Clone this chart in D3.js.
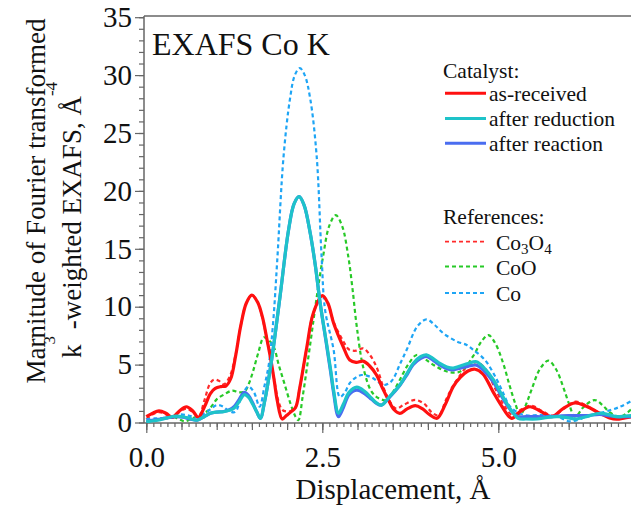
<!DOCTYPE html>
<html>
<head>
<meta charset="utf-8">
<script src="https://cdn.jsdelivr.net/npm/d3@7"></script>
<style>
  html, body { margin: 0; padding: 0; background: #fff; }
  svg { display: block; }
  text { font-family: "Liberation Serif", "Times New Roman", serif; fill: #111; }
</style>
</head>
<body>
<svg id="chart" width="631" height="507"></svg>
<script>
// Fourier-transform magnitudes |χ(R)|, k^3-weighted, Co K edge.
// Each series: [displacement (Å), magnitude (Å^-4)].
const asReceived = [[0.00,0.50],[0.09,0.80],[0.18,1.00],[0.28,0.80],[0.37,0.45],[0.47,1.00],[0.57,1.36],[0.66,1.00],[0.74,0.45],[0.83,1.40],[0.91,2.50],[0.98,2.95],[1.06,3.10],[1.13,3.15],[1.20,3.80],[1.27,5.80],[1.34,8.30],[1.42,10.3],[1.50,11.0],[1.58,10.4],[1.65,9.10],[1.71,7.30],[1.77,5.40],[1.82,3.50],[1.86,1.90],[1.93,0.30],[1.99,0.60],[2.05,0.90],[2.12,1.30],[2.18,3.00],[2.28,6.50],[2.37,9.40],[2.50,10.95],[2.58,10.3],[2.66,8.60],[2.80,6.50],[2.89,5.40],[2.98,5.20],[3.08,5.30],[3.17,4.90],[3.27,4.10],[3.36,2.90],[3.44,1.94],[3.52,1.10],[3.60,0.79],[3.70,1.15],[3.82,1.45],[3.92,1.20],[4.02,0.70],[4.13,0.36],[4.25,1.60],[4.36,3.10],[4.46,3.90],[4.57,4.45],[4.67,4.60],[4.78,4.20],[4.93,2.60],[5.05,1.40],[5.19,0.36],[5.30,0.90],[5.45,1.36],[5.60,0.97],[5.76,0.50],[5.92,1.20],[6.09,1.70],[6.25,1.40],[6.44,0.80],[6.58,0.40],[6.68,0.28],[6.80,0.40],[6.90,0.50]];

const afterReduction = [[0.00,0.07],[0.10,0.15],[0.20,0.25],[0.30,0.40],[0.42,0.55],[0.52,0.50],[0.62,0.35],[0.72,0.20],[0.82,0.50],[0.91,0.80],[1.00,0.90],[1.10,0.93],[1.18,1.05],[1.25,1.25],[1.32,1.80],[1.39,2.40],[1.45,2.20],[1.51,1.60],[1.57,0.90],[1.62,0.36],[1.68,1.80],[1.78,5.40],[1.90,10.9],[2.02,16.6],[2.10,18.9],[2.17,19.5],[2.24,18.8],[2.33,16.3],[2.40,13.6],[2.47,10.3],[2.56,6.84],[2.62,4.50],[2.66,2.80],[2.73,0.80],[2.80,1.60],[2.88,2.60],[2.99,3.05],[3.10,2.70],[3.20,2.10],[3.27,1.70],[3.34,1.50],[3.45,2.20],[3.60,3.24],[3.70,4.20],[3.79,5.10],[3.90,5.70],[3.98,5.85],[4.08,5.50],[4.17,5.10],[4.27,4.80],[4.36,4.70],[4.46,4.88],[4.57,5.10],[4.69,5.25],[4.80,4.70],[4.93,3.70],[5.03,2.60],[5.12,1.66],[5.20,0.90],[5.28,0.36],[5.40,0.30],[5.55,0.30],[5.70,0.45],[5.85,0.50],[6.00,0.40],[6.10,0.30],[6.25,0.50],[6.44,0.80],[6.56,0.70],[6.68,0.50],[6.80,0.55],[6.90,0.60]];

const afterReaction = [[0.00,0.10],[0.10,0.20],[0.20,0.30],[0.30,0.40],[0.42,0.50],[0.52,0.45],[0.62,0.30],[0.72,0.20],[0.82,0.50],[0.91,0.80],[1.00,0.90],[1.10,0.95],[1.18,1.10],[1.25,1.40],[1.32,2.00],[1.39,2.60],[1.45,2.35],[1.51,1.70],[1.57,0.90],[1.62,0.36],[1.68,1.80],[1.78,5.40],[1.90,10.9],[2.02,16.6],[2.10,18.9],[2.17,19.5],[2.24,18.8],[2.33,16.3],[2.40,13.6],[2.47,10.3],[2.56,6.70],[2.62,4.30],[2.66,2.60],[2.73,0.50],[2.80,1.30],[2.88,2.40],[2.99,2.80],[3.10,2.50],[3.20,2.00],[3.27,1.65],[3.34,1.50],[3.45,2.15],[3.60,3.20],[3.70,4.10],[3.79,5.00],[3.90,5.55],[3.98,5.70],[4.08,5.35],[4.17,4.95],[4.27,4.65],[4.36,4.55],[4.46,4.70],[4.57,4.85],[4.69,4.95],[4.80,4.45],[4.93,3.50],[5.03,2.45],[5.12,1.55],[5.20,0.90],[5.28,0.50],[5.40,0.50],[5.55,0.50],[5.70,0.50],[5.85,0.55],[6.00,0.60],[6.10,0.60],[6.25,0.60],[6.44,0.70],[6.56,0.60],[6.68,0.50],[6.80,0.50],[6.90,0.50]];

const refCo3O4 = [[0.00,0.30],[0.09,0.70],[0.18,0.90],[0.28,0.70],[0.37,0.40],[0.47,0.90],[0.57,1.20],[0.66,0.90],[0.74,0.50],[0.83,2.00],[0.90,3.30],[0.96,3.70],[1.03,3.60],[1.10,3.30],[1.18,3.90],[1.27,5.90],[1.34,8.30],[1.42,10.3],[1.50,11.0],[1.58,10.4],[1.65,9.00],[1.71,7.30],[1.77,5.40],[1.82,3.60],[1.87,2.00],[1.93,1.10],[2.00,0.95],[2.06,1.00],[2.12,1.30],[2.18,3.00],[2.28,6.50],[2.37,9.40],[2.50,10.95],[2.58,10.3],[2.66,8.70],[2.80,7.00],[2.88,6.30],[2.98,6.20],[3.08,6.40],[3.18,5.80],[3.27,4.80],[3.37,3.00],[3.46,1.80],[3.55,1.20],[3.65,1.50],[3.82,1.95],[3.95,1.60],[4.05,0.90],[4.15,0.60],[4.26,2.00],[4.36,3.20],[4.46,4.10],[4.57,4.90],[4.70,5.20],[4.82,4.60],[4.95,3.00],[5.08,1.50],[5.21,0.60],[5.32,1.10],[5.47,1.45],[5.62,1.00],[5.78,0.60],[5.95,1.30],[6.10,1.80],[6.27,1.40],[6.45,0.80],[6.60,0.50],[6.72,0.40],[6.90,0.50]];

const refCoO = [[0.00,0.00],[0.10,0.15],[0.20,0.30],[0.37,0.50],[0.46,0.30],[0.55,0.10],[0.65,0.35],[0.77,0.65],[0.87,1.00],[0.94,1.50],[1.00,2.00],[1.10,2.40],[1.22,2.75],[1.32,2.60],[1.40,2.70],[1.46,3.40],[1.52,4.50],[1.59,6.00],[1.67,7.35],[1.74,7.10],[1.81,6.55],[1.88,5.00],[1.96,3.40],[2.05,1.60],[2.12,0.50],[2.16,0.20],[2.22,2.20],[2.33,6.84],[2.42,10.8],[2.51,14.3],[2.60,17.0],[2.69,17.9],[2.78,17.0],[2.87,14.3],[2.93,11.5],[2.99,8.27],[3.08,4.80],[3.20,2.66],[3.30,2.10],[3.41,1.94],[3.50,2.60],[3.60,3.67],[3.72,5.00],[3.84,5.83],[3.95,5.50],[4.08,4.97],[4.27,4.40],[4.46,4.40],[4.64,5.70],[4.76,7.00],[4.86,7.55],[4.96,6.80],[5.07,5.10],[5.16,3.20],[5.24,1.66],[5.31,0.65],[5.39,1.50],[5.47,2.80],[5.59,4.60],[5.71,5.34],[5.82,4.60],[5.92,3.10],[6.00,1.70],[6.09,0.50],[6.22,1.40],[6.37,1.94],[6.48,1.50],[6.58,0.90],[6.73,0.50],[6.90,1.20]];

const refCo = [[0.00,0.30],[0.12,0.35],[0.25,0.40],[0.37,0.55],[0.49,0.70],[0.60,0.60],[0.70,0.45],[0.80,0.70],[0.90,1.10],[1.00,1.50],[1.08,1.40],[1.16,1.05],[1.26,0.90],[1.35,2.20],[1.45,3.10],[1.53,2.60],[1.61,1.36],[1.68,3.20],[1.74,5.00],[1.80,8.50],[1.86,14.0],[1.95,23.0],[2.04,27.9],[2.11,30.0],[2.18,30.6],[2.25,30.0],[2.33,27.9],[2.42,23.0],[2.49,14.3],[2.54,9.70],[2.66,6.30],[2.75,2.20],[2.82,2.60],[2.89,3.40],[2.98,3.90],[3.06,4.10],[3.20,3.90],[3.37,3.24],[3.45,3.40],[3.51,3.80],[3.60,5.00],[3.70,6.30],[3.85,8.30],[3.98,8.90],[4.10,8.40],[4.22,7.70],[4.41,7.00],[4.55,6.70],[4.64,6.30],[4.81,5.40],[4.98,3.70],[5.08,2.40],[5.17,1.36],[5.36,0.65],[5.60,0.65],[5.84,0.50],[6.02,0.10],[6.26,0.50],[6.50,0.90],[6.73,1.36],[6.90,1.90]];

// Axis tick values and legend labels
const xMajorTicks = [0, 2.5, 5];
const yMajorTicks = [0, 5, 10, 15, 20, 25, 30, 35];
const catalystLabels = ["as-received", "after reduction", "after reaction"];
const referenceLabels = ["Co3O4", "CoO", "Co"];

const colors = {
  red: "#ff1010",
  cyan: "#1ec3c9",
  blue: "#4a6df0",
  refRed: "#ff2a2a",
  refGreen: "#27c927",
  refBlue: "#1ea5f5"
};

const serif = '"Liberation Serif", "Times New Roman", serif';
const svg = d3.select("#chart");
const plot = { left: 144, right: 631, top: 16, bottom: 423 };

const x = d3.scaleLinear().domain([0, 5]).range([146.3, 498.3]);
const y = d3.scaleLinear().domain([0, 35]).range([422.5, 17.2]);

// clip area for the curves
svg.append("defs").append("clipPath").attr("id", "plotClip")
  .append("rect")
  .attr("x", plot.left).attr("y", plot.top)
  .attr("width", plot.right - plot.left).attr("height", plot.bottom - plot.top);

const axisColor = "#666";

// ---- axes ----
function styleAxis(g) {
  g.attr("font-family", serif);
  g.select(".domain").remove();
  g.selectAll(".tick line").attr("stroke", axisColor).attr("stroke-width", 1.2);
}

// y: minor every 1, labelled every 5
svg.append("g").attr("transform", `translate(${plot.left},0)`)
  .call(d3.axisLeft(y).tickValues(d3.range(0, 36, 1)).tickSize(5).tickFormat(""))
  .call(styleAxis);
const yMajor = svg.append("g").attr("transform", `translate(${plot.left},0)`)
  .call(d3.axisLeft(y).tickValues(yMajorTicks).tickSize(9).tickPadding(3).tickFormat(d3.format("d")))
  .call(styleAxis);
yMajor.selectAll("text").attr("font-size", 29).attr("fill", "#111");

// x: minor every 0.1, medium every 0.5, labelled every 2.5
const xMinorVals = d3.range(0, 69).map(i => +(i * 0.1).toFixed(1));
svg.append("g").attr("transform", `translate(0,${plot.bottom})`)
  .call(d3.axisBottom(x).tickValues(xMinorVals).tickSize(4).tickFormat(""))
  .call(styleAxis);
svg.append("g").attr("transform", `translate(0,${plot.bottom})`)
  .call(d3.axisBottom(x).tickValues(d3.range(0, 7, 0.5)).tickSize(7).tickFormat(""))
  .call(styleAxis);
const xMajor = svg.append("g").attr("transform", `translate(0,${plot.bottom})`)
  .call(d3.axisBottom(x).tickValues(xMajorTicks).tickSize(10).tickPadding(13).tickFormat(d3.format(".1f")))
  .call(styleAxis);
xMajor.selectAll("text").attr("font-size", 29).attr("fill", "#111");

// frame lines: left, bottom, top
svg.append("line").attr("x1", plot.left).attr("x2", plot.left)
  .attr("y1", plot.top).attr("y2", plot.bottom)
  .attr("stroke", axisColor).attr("stroke-width", 1.5);
svg.append("line").attr("x1", plot.left).attr("x2", plot.right)
  .attr("y1", plot.bottom).attr("y2", plot.bottom)
  .attr("stroke", axisColor).attr("stroke-width", 1.5);
svg.append("line").attr("x1", plot.left).attr("x2", plot.right)
  .attr("y1", plot.top).attr("y2", plot.top)
  .attr("stroke", axisColor).attr("stroke-width", 1.5);

// ---- curves ----
const line = d3.line()
  .x(d => x(d[0])).y(d => y(d[1]))
  .curve(d3.curveCatmullRom.alpha(0.5));

const curves = svg.append("g").attr("clip-path", "url(#plotClip)");

const refs = [
  { data: refCo3O4, color: colors.refRed },
  { data: refCoO, color: colors.refGreen },
  { data: refCo, color: colors.refBlue }
];
refs.forEach(r => {
  curves.append("path").datum(r.data)
    .attr("d", line).attr("fill", "none")
    .attr("stroke", r.color).attr("stroke-width", 2.2)
    .attr("stroke-dasharray", "4,3");
});

const cats = [
  { data: asReceived, color: colors.red },
  { data: afterReaction, color: colors.blue },
  { data: afterReduction, color: colors.cyan }
];
cats.forEach(c => {
  curves.append("path").datum(c.data)
    .attr("d", line).attr("fill", "none")
    .attr("stroke", c.color).attr("stroke-width", 3.2)
    .attr("stroke-linejoin", "round");
});

// ---- title ----
svg.append("text").attr("x", 152).attr("y", 55)
  .attr("font-size", 32).text("EXAFS Co K");

// ---- axis titles ----
svg.append("text")
  .attr("x", 393).attr("y", 499)
  .attr("text-anchor", "middle").attr("font-size", 29)
  .text("Displacement, Å");

svg.append("text")
  .attr("transform", "translate(45,201) rotate(-90)")
  .attr("text-anchor", "middle").attr("font-size", 27)
  .text("Marnitude of Fourier transformed");

const yl2 = svg.append("text")
  .attr("transform", "translate(81,220) rotate(-90)")
  .attr("text-anchor", "middle").attr("font-size", 27);
yl2.append("tspan").text("k");
yl2.append("tspan").attr("font-size", 17).attr("dy", -26).text("3");
yl2.append("tspan").attr("dy", 26).text(" -weighted EXAFS, Å");
yl2.append("tspan").attr("font-size", 17).attr("dy", -24).text("-4");

// ---- legend ----
const legendFont = 21.5;
svg.append("text").attr("x", 443).attr("y", 78)
  .attr("font-size", legendFont).text("Catalyst:");
const catColors = [colors.red, colors.cyan, colors.blue];
const catRowY = [93.3, 118.5, 143.3];
catalystLabels.forEach((lab, i) => {
  svg.append("line").attr("x1", 445).attr("x2", 486)
    .attr("y1", catRowY[i]).attr("y2", catRowY[i])
    .attr("stroke", catColors[i]).attr("stroke-width", 3);
  svg.append("text").attr("x", 489).attr("y", catRowY[i] + 7.5)
    .attr("font-size", legendFont).text(lab);
});

svg.append("text").attr("x", 443).attr("y", 224)
  .attr("font-size", legendFont).text("References:");
const refColors = [colors.refRed, colors.refGreen, colors.refBlue];
const refRowY = [241.7, 266.5, 293];
referenceLabels.forEach((lab, i) => {
  svg.append("line").attr("x1", 445).attr("x2", 486)
    .attr("y1", refRowY[i]).attr("y2", refRowY[i])
    .attr("stroke", refColors[i]).attr("stroke-width", 1.8)
    .attr("stroke-dasharray", "4,3");
  const t = svg.append("text").attr("x", 496).attr("y", refRowY[i] + 8)
    .attr("font-size", legendFont);
  if (lab === "Co3O4") {
    t.append("tspan").text("Co");
    t.append("tspan").attr("font-size", 15).attr("dy", 4).text("3");
    t.append("tspan").attr("dy", -4).text("O");
    t.append("tspan").attr("font-size", 15).attr("dy", 4).text("4");
  } else {
    t.text(lab);
  }
});
</script>
</body>
</html>
